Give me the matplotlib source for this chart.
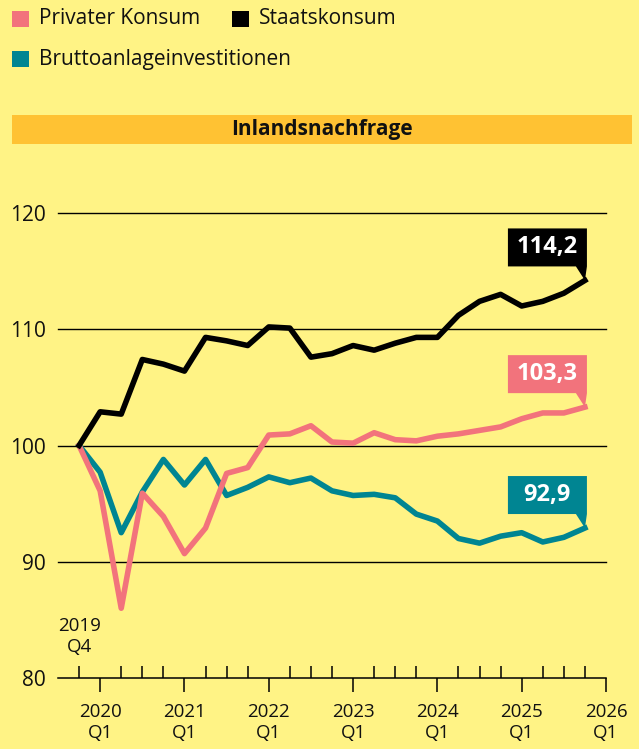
import matplotlib
matplotlib.use("Agg")
import matplotlib.pyplot as plt
import matplotlib.transforms as mtransforms
from matplotlib.patches import Rectangle, Polygon

# ---------------- data ----------------
quarters = ["2019 Q4",
            "2020 Q1", "2020 Q2", "2020 Q3", "2020 Q4",
            "2021 Q1", "2021 Q2", "2021 Q3", "2021 Q4",
            "2022 Q1", "2022 Q2", "2022 Q3", "2022 Q4",
            "2023 Q1", "2023 Q2", "2023 Q3", "2023 Q4",
            "2024 Q1", "2024 Q2", "2024 Q3", "2024 Q4",
            "2025 Q1", "2025 Q2", "2025 Q3", "2025 Q4"]

privater_konsum = [100.0, 96.1, 86.0, 95.9, 93.9, 90.7, 92.9, 97.6, 98.1,
                   100.9, 101.0, 101.7, 100.3, 100.2, 101.1, 100.5, 100.4,
                   100.8, 101.0, 101.3, 101.6, 102.3, 102.8, 102.8, 103.3]
staatskonsum = [100.0, 102.9, 102.7, 107.4, 107.0, 106.4, 109.3, 109.0, 108.6,
                110.2, 110.1, 107.6, 107.9, 108.6, 108.2, 108.8, 109.3,
                109.3, 111.2, 112.4, 113.0, 112.0, 112.4, 113.1, 114.2]
brutto = [100.0, 97.7, 92.5, 96.0, 98.8, 96.6, 98.8, 95.7, 96.4,
          97.3, 96.8, 97.2, 96.1, 95.7, 95.8, 95.5, 94.1,
          93.5, 92.0, 91.6, 92.2, 92.5, 91.7, 92.1, 92.9]

series_names = ["Privater Konsum", "Staatskonsum", "Bruttoanlageinvestitionen"]
end_labels = ["103,3", "114,2", "92,9"]

year_ticks = ["2020\nQ1", "2021\nQ1", "2022\nQ1", "2023\nQ1", "2024\nQ1", "2025\nQ1", "2026\nQ1"]
first_label = "2019\nQ4"
y_ticks = [80, 90, 100, 110, 120]
title = "Inlandsnachfrage"

# ---------------- style ----------------
BG = "#FFF385"
BAR = "#FFC233"
PINK = "#F2737C"
TEAL = "#008592"
BLACK = "#000000"
TXT = "#111111"
FONT = ["Open Sans", "DejaVu Sans"]
plt.rcParams["font.family"] = FONT

W, H = 639, 749
fig = plt.figure(figsize=(W / 100, H / 100), dpi=100, facecolor=BG)

def fx(px):
    return px / W

def fy(py):
    return 1 - py / H

# legend
leg = [(12, 19, PINK, series_names[0]), (232, 19, BLACK, series_names[1]),
       (12, 59, TEAL, series_names[2])]
for x0, yc, col, name in leg:
    fig.patches.append(Rectangle((fx(x0), fy(yc + 8)), 17 / W, 16 / H,
                                 transform=fig.transFigure, facecolor=col,
                                 edgecolor="none"))
    fig.text(fx(x0 + 27), fy(yc), name, fontsize=15, color=TXT,
             ha="left", va="center")

# title bar
fig.patches.append(Rectangle((fx(12), fy(144)), 620 / W, 29 / H,
                             transform=fig.transFigure, facecolor=BAR,
                             edgecolor="none"))
fig.text(fx(322), fy(129.5), title, fontsize=15, fontweight="bold",
         color=TXT, ha="center", va="center")

# axes
ax = fig.add_axes([fx(58), fy(678), (606 - 58) / W, (678 - 213) / H])
ax.set_facecolor("none")
x = list(range(len(quarters)))
ax.set_xlim(-1, 25)
ax.set_ylim(80, 120)

for yv in y_ticks[1:]:
    ax.axhline(yv, color=BLACK, lw=1.0, zorder=1, clip_on=False)

for sp in ["left", "right", "top"]:
    ax.spines[sp].set_visible(False)
ax.spines["bottom"].set_color(BLACK)
ax.spines["bottom"].set_linewidth(1.1)

ax.set_yticks(y_ticks)
ax.set_yticklabels([str(v) for v in y_ticks])
ax.tick_params(axis="y", length=0, pad=9, labelsize=15, labelcolor=TXT)

major_pos = [1, 5, 9, 13, 17, 21, 25]
minor_pos = [i for i in range(0, 25) if i not in major_pos]
ax.set_xticks(major_pos)
ax.set_xticklabels(year_ticks)
ax.set_xticks(minor_pos, minor=True)
ax.tick_params(axis="x", which="major", direction="out", length=10, width=1.1,
               pad=8, labelsize=13.5, labelcolor=TXT, color=BLACK)
ax.tick_params(axis="x", which="minor", direction="in", length=8.6, width=1.1,
               color=BLACK)
ax.text(0, 83.6, first_label, ha="center", va="center", fontsize=13.5,
        color=TXT)

lw = 4.0
ax.plot(x, brutto, color=TEAL, lw=lw, zorder=3, clip_on=False)
ax.plot(x, privater_konsum, color=PINK, lw=lw, zorder=4, clip_on=False)
ax.plot(x, staatskonsum, color=BLACK, lw=lw, zorder=5, clip_on=False)

# end callouts
fig.canvas.draw()
box_verts = [(-77, 14), (-77, 52), (2, 52), (2, 14), (0, 0), (-9, 14)]
for vals, col, lab in [(privater_konsum, PINK, end_labels[0]),
                       (staatskonsum, BLACK, end_labels[1]),
                       (brutto, TEAL, end_labels[2])]:
    px, py = ax.transData.transform((x[-1], vals[-1]))
    tr = mtransforms.Affine2D().translate(px, py)
    poly = Polygon(box_verts, closed=True, facecolor=col, edgecolor="none",
                   transform=tr, zorder=6, clip_on=False)
    ax.add_patch(poly)
    poly.set_transform(tr)
    ax.annotate(lab, xy=(x[-1], vals[-1]), xytext=(-37.5, 33),
                textcoords="offset pixels", ha="center", va="center",
                fontsize=17, fontweight="bold", color="white", zorder=7,
                annotation_clip=False)

fig.savefig("out.png", dpi=100, facecolor=BG)
